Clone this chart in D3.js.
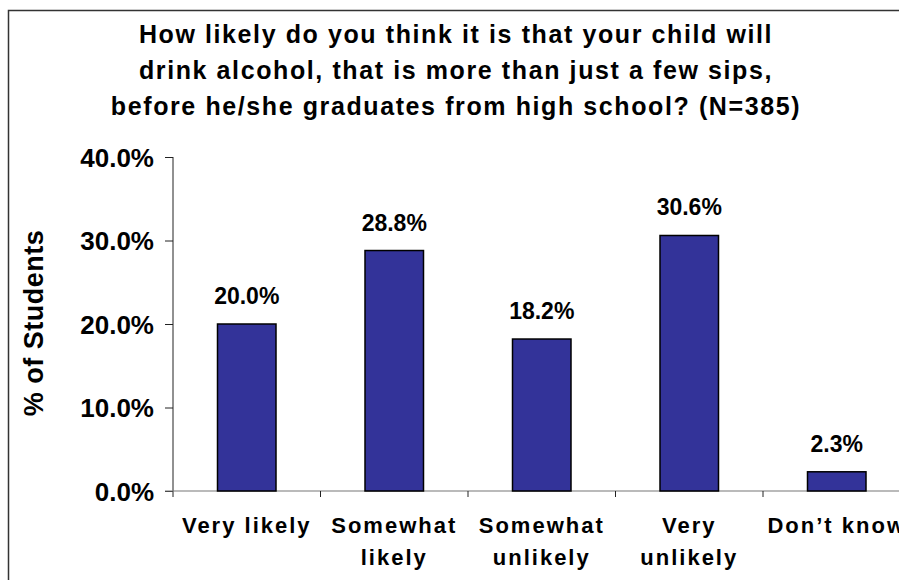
<!DOCTYPE html>
<html>
<head>
<meta charset="utf-8">
<script src="https://cdn.jsdelivr.net/npm/d3@7"></script>
<style>
  body { margin: 0; background: #fff; }
  svg text { font-family: Arial, "Liberation Sans", sans-serif; font-weight: bold; fill: #000; }
</style>
</head>
<body>
<svg id="chart" width="899" height="580"></svg>
<script>
// data
var categories = ['Very likely', 'Somewhat likely', 'Somewhat unlikely', 'Very unlikely', 'Don\u2019t know'];
var categoryLines = [['Very likely'], ['Somewhat', 'likely'], ['Somewhat', 'unlikely'], ['Very', 'unlikely'], ['Don\u2019t know']];
var values = [20.0, 28.8, 18.2, 30.6, 2.3];
var yTicks = [0, 10, 20, 30, 40];
var titleLines = [
    'How likely do you think it is that your child will',
    'drink alcohol, that is more than just a few sips,',
    'before he/she graduates from high school? (N=385)'
];

var svg = d3.select('#chart');

// outer frame (runs off the right and bottom edge)
svg.append('rect')
    .attr('x', 8.5).attr('y', 10.5)
    .attr('width', 1000).attr('height', 1000)
    .attr('fill', 'none')
    .attr('stroke', '#333')
    .attr('stroke-width', 1.5);

var plotLeft = 173, plotTop = 157, plotBottom = 491;
var bandStep = 147.5;

var x = d3.scaleBand()
    .domain(categories)
    .range([plotLeft, plotLeft + bandStep * categories.length])
    .padding(0);

var y = d3.scaleLinear()
    .domain([0, 40])
    .range([plotBottom, plotTop]);

// title
svg.append('g').selectAll('text')
    .data(titleLines).enter()
    .append('text')
    .attr('x', 456)
    .attr('y', (d, i) => 43 + i * 36)
    .attr('text-anchor', 'middle')
    .style('font-size', '25px')
    .style('letter-spacing', '1.6px')
    .text(d => d);

// y axis
var yAxis = svg.append('g')
    .attr('transform', `translate(${plotLeft},0)`)
    .call(d3.axisLeft(y).tickValues(yTicks).tickSize(8).tickPadding(11)
        .tickFormat(d => d.toFixed(1) + '%'));
yAxis.select('.domain').attr('d', `M0,${plotTop}V${plotBottom + 6}`).attr('stroke', '#222');
yAxis.selectAll('.tick line').attr('stroke', '#222');
yAxis.selectAll('.tick text')
    .style('font-size', '26px')
    .attr('dy', '0.36em');

// x axis
var xAxis = svg.append('g')
    .attr('transform', `translate(0,${plotBottom})`);
xAxis.append('line')
    .attr('x1', plotLeft - 8).attr('x2', 905)
    .attr('stroke', '#777').attr('stroke-width', 1.2);
xAxis.selectAll('.xtick')
    .data(categories.slice(1)).enter()
    .append('line')
    .attr('x1', d => x(d)).attr('x2', d => x(d))
    .attr('y1', 0).attr('y2', 6)
    .attr('stroke', '#222');

var xLabels = svg.append('g').selectAll('text')
    .data(categoryLines).enter()
    .append('text')
    .attr('text-anchor', 'middle')
    .style('font-size', '22px')
    .style('letter-spacing', '2px')
    .attr('transform', (d, i) => `translate(${x(categories[i]) + x.bandwidth() / 2},533)`);
xLabels.selectAll('tspan')
    .data(d => d).enter()
    .append('tspan')
    .attr('x', 0)
    .attr('y', (d, i) => i * 32)
    .text(d => d);

// bars
var barW = 58.5;
svg.append('g').selectAll('rect')
    .data(values).enter()
    .append('rect')
    .attr('x', (d, i) => x(categories[i]) + (x.bandwidth() - barW) / 2)
    .attr('y', d => y(d))
    .attr('width', barW)
    .attr('height', d => y(0) - y(d))
    .attr('fill', '#333399')
    .attr('stroke', '#000')
    .attr('stroke-width', 1.5);

// value labels
svg.append('g').selectAll('text')
    .data(values).enter()
    .append('text')
    .attr('x', (d, i) => x(categories[i]) + x.bandwidth() / 2)
    .attr('y', d => y(d) - 20)
    .attr('text-anchor', 'middle')
    .style('font-size', '23px')
    .text(d => d.toFixed(1) + '%');

// y axis title
svg.append('text')
    .attr('transform', 'translate(43,323) rotate(-90)')
    .attr('text-anchor', 'middle')
    .style('font-size', '27px')
    .style('letter-spacing', '0.5px')
    .text('% of Students');
</script>
</body>
</html>
